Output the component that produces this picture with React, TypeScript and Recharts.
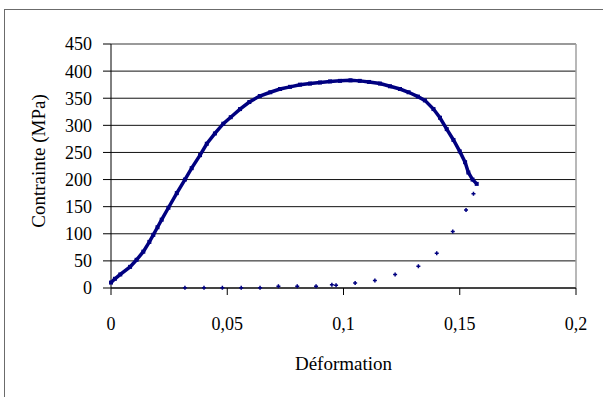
import React from 'react';
import { ScatterChart, Scatter, XAxis, YAxis, CartesianGrid, ReferenceLine } from 'recharts';

// courbe de traction
const deformation = [
  0, 0.0017, 0.004, 0.0082, 0.011, 0.0139, 0.0165, 0.0182, 0.02, 0.0218, 0.0247, 0.0283,
  0.0318, 0.0347, 0.0383, 0.0412, 0.0447, 0.0483, 0.0515, 0.0555, 0.0595, 0.064, 0.0685,
  0.0727, 0.077, 0.0813, 0.0856, 0.0899, 0.0942, 0.0985, 0.103, 0.107, 0.111, 0.1157, 0.12,
  0.1243, 0.128, 0.132, 0.135, 0.1387, 0.1415, 0.1444, 0.1473, 0.15, 0.1523, 0.1537, 0.1555,
  0.1573,
];
const contrainte = [
  10, 17, 25, 39, 52, 67, 85, 98, 112, 126, 148, 175,
  200, 221, 245, 266, 285, 303, 315, 330, 343, 354, 361,
  367, 371, 375, 377, 379, 381, 382, 383, 382, 380, 377, 372,
  367, 361, 353, 346, 330, 314, 293, 273, 252, 232, 213, 200,
  192,
];

// points isolés (retour)
const retourX = [
  0.0318, 0.04, 0.0479, 0.056, 0.0641, 0.072, 0.0801, 0.0882, 0.095, 0.0968, 0.105, 0.1135,
  0.1222, 0.1322, 0.1401, 0.147, 0.1527, 0.1559,
];
const retourY = [0.5, 0.5, 0.5, 0.5, 0.5, 3, 3, 3, 6, 5, 9, 14, 25, 40, 64, 104, 144, 174];

const xTicks = [0, 0.05, 0.1, 0.15, 0.2];
const yTicks = [0, 50, 100, 150, 200, 250, 300, 350, 400, 450];

const courbe = deformation.map((x, i) => ({ x, y: contrainte[i] }));
const retour = retourX.map((x, i) => ({ x, y: retourY[i] }));

const BLEU = '#000080';
const FONT = '"Liberation Serif", "DejaVu Serif", serif';

const fmt = (v: number) => String(v).replace('.', ',');

const PetitCarre = (props: any) => (
  <rect x={props.cx - 2} y={props.cy - 2} width={4} height={4} fill={BLEU} />
);

const PetitPlus = (props: any) => (
  <path
    d={`M${props.cx - 2},${props.cy}h4M${props.cx},${props.cy - 2}v4`}
    stroke={BLEU}
    strokeWidth={1.5}
  />
);

const App = () => {
  return (
    <div
      style={{
        position: 'absolute',
        left: 0,
        top: 0,
        width: 603,
        height: 397,
        overflow: 'hidden',
        background: '#fff',
      }}
    >
      {/* cadre extérieur */}
      <div
        style={{
          position: 'absolute',
          left: 4,
          top: 9,
          width: 640,
          height: 440,
          border: '1.5px solid #6b6b6b',
        }}
      />
      <div style={{ position: 'absolute', left: 0, top: 0 }}>
        <ScatterChart width={603} height={397} margin={{ top: 44, right: 27, left: 0, bottom: 0 }}>
          <CartesianGrid vertical={false} stroke="#111" strokeWidth={1} />
          <XAxis
            type="number"
            dataKey="x"
            domain={[0, 0.2]}
            ticks={xTicks}
            tickFormatter={fmt}
            height={109}
            axisLine={{ stroke: '#000' }}
            tickLine={{ stroke: '#000' }}
            tickSize={7}
            tickMargin={22}
            tick={{ fill: '#000', fontSize: 18, fontFamily: FONT }}
            label={{
              content: (p: any) => (
                <text
                  x={p.viewBox.x + p.viewBox.width / 2}
                  y={363}
                  textAnchor="middle"
                  dominantBaseline="central"
                  fontSize={19}
                  fontFamily={FONT}
                  fill="#000"
                >
                  Déformation
                </text>
              ),
            }}
          />
          <YAxis
            type="number"
            dataKey="y"
            domain={[0, 450]}
            ticks={yTicks}
            width={111}
            axisLine={{ stroke: '#000' }}
            tickLine={{ stroke: '#000' }}
            tickSize={8}
            tickMargin={11}
            tick={{ fill: '#000', fontSize: 18, fontFamily: FONT }}
            label={{
              content: () => (
                <text
                  x={38}
                  y={161}
                  transform="rotate(-90, 38, 161)"
                  textAnchor="middle"
                  dominantBaseline="central"
                  fontSize={19}
                  fontFamily={FONT}
                  fill="#000"
                >
                  Contrainte (MPa)
                </text>
              ),
            }}
          />
          <ReferenceLine y={450} stroke="#a0a0a0" strokeWidth={1.5} />
          <ReferenceLine x={0.2} stroke="#a0a0a0" strokeWidth={1.5} />
          <Scatter
            data={courbe}
            line={{ stroke: BLEU, strokeWidth: 3.5 }}
            shape={PetitCarre}
            isAnimationActive={false}
          />
          <Scatter data={retour} shape={PetitPlus} isAnimationActive={false} />
        </ScatterChart>
      </div>
    </div>
  );
};

export default App;
